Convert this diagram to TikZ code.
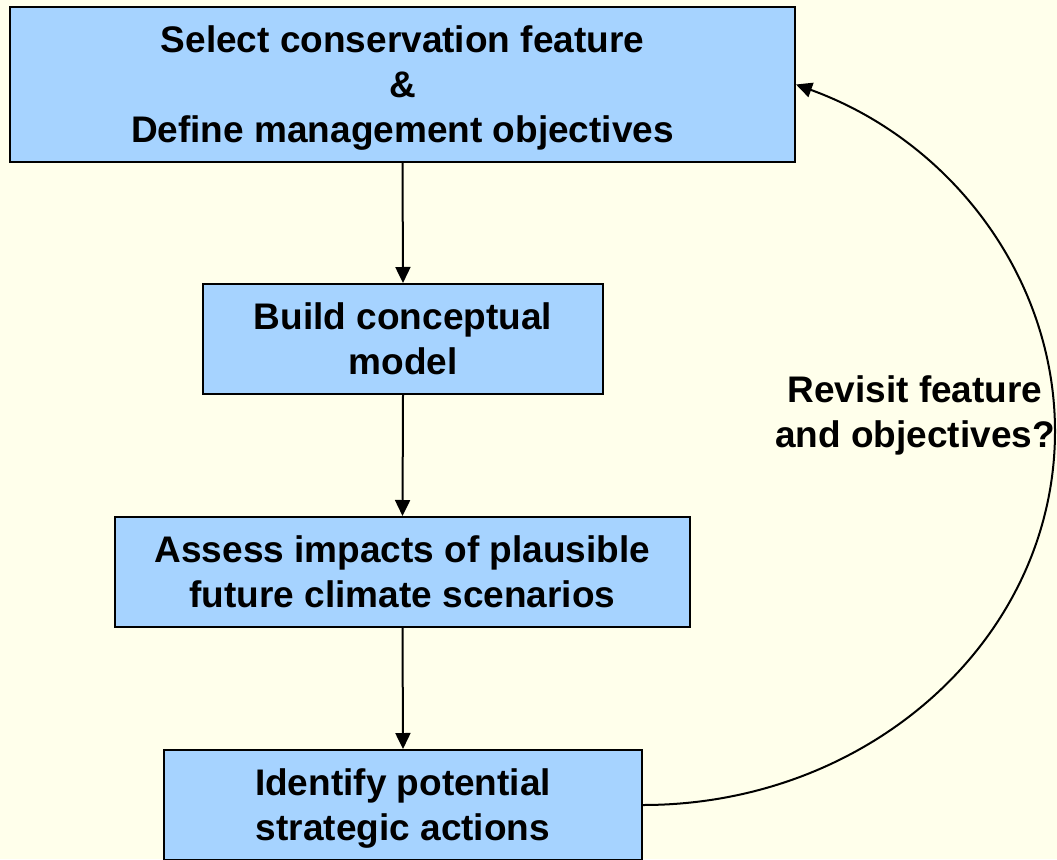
\documentclass[tikz,border=0pt]{standalone}
\usepackage{fontspec}
\setmainfont{Liberation Sans}
\usepackage{xcolor}
\usetikzlibrary{arrows.meta,positioning}

\definecolor{bgcream}{RGB}{255,255,235}
\definecolor{boxblue}{RGB}{166,211,255}

\tikzset{
    stepbox/.style={draw=black, line width=2pt, fill=boxblue, align=center,
        inner sep=0pt, text depth=0pt, font=\bfseries\fontsize{37}{45}\selectfont},
    flow/.style={line width=2pt, -{Triangle[length=16pt,width=15pt]}}
}

\begin{document}
\begin{tikzpicture}[x=1pt, y=-1pt]
    % Background
    \fill[bgcream] (0,0) rectangle (1057,859);
    \useasboundingbox (0,0) rectangle (1057,859);

    % Boxes
    \node[stepbox, minimum width=785pt, minimum height=155pt] (select) at (402.5,84.5)
        {Select conservation feature\\\&\\Define management objectives};
    \node[stepbox, minimum width=400pt, minimum height=110pt] (build) at (403,339)
        {Build conceptual\\model};
    \node[stepbox, minimum width=575pt, minimum height=110pt] (assess) at (402.5,572)
        {Assess impacts of plausible\\future climate scenarios};
    \node[stepbox, minimum width=478pt, minimum height=110pt] (identify) at (403,805)
        {Identify potential\\strategic actions};

    % Loop label
    \node[align=center, font=\bfseries\fontsize{37}{45}\selectfont] (revisit) at (915,415)
        {Revisit feature\\and objectives?};

    % Arrows
    \draw[flow] (select.south) -- (build.north);
    \draw[flow] (build.south) -- (assess.north);
    \draw[flow] (assess.south) -- (identify.north);
    % loop back, elliptic
    \draw[flow] (identify.east) .. controls +(227.5,0) and +(0,206.3) .. ++(412,-373.6)
        .. controls +(0,-152.8) and +(156.4,56.8) .. (select.east);
\end{tikzpicture}
\end{document}
